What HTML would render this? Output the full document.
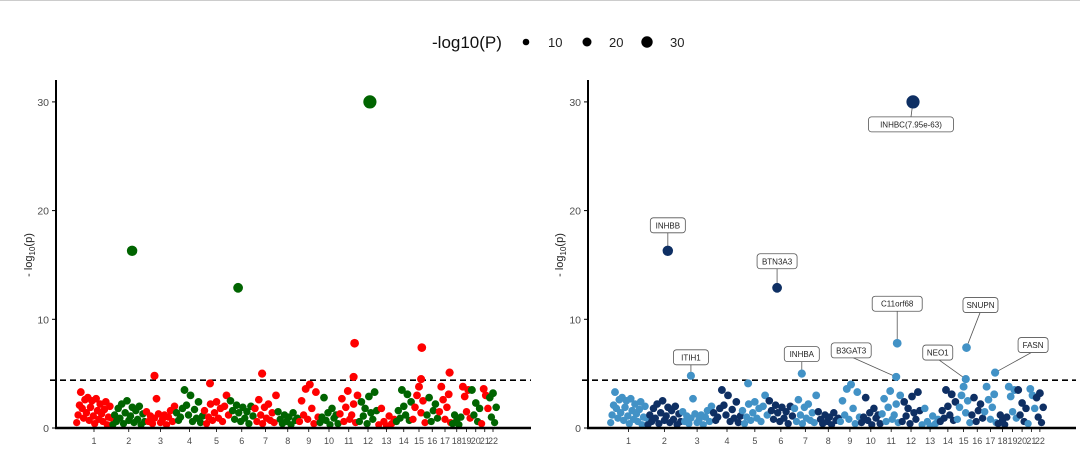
<!DOCTYPE html>
<html><head><meta charset="utf-8"><style>
html,body{margin:0;padding:0;background:#fff}
svg{display:block;font-family:"Liberation Sans",sans-serif}
</style></head><body>
<svg id="c" width="1080" height="461" viewBox="0 0 1080 461">
<line x1="0" y1="0.5" x2="1080" y2="0.5" stroke="#ccc"/>
<g>
<text x="432" y="48" font-size="17" fill="#111">-log10(P)</text>
<circle cx="526" cy="42" r="3.3" fill="#000"/>
<text x="548" y="47" font-size="13" fill="#222">10</text>
<circle cx="587" cy="42" r="4.5" fill="#000"/>
<text x="609" y="47" font-size="13" fill="#222">20</text>
<circle cx="647" cy="42" r="5.7" fill="#000"/>
<text x="670" y="47" font-size="13" fill="#222">30</text>
</g>
</svg>
<script>
const chroms=["1","2","3","4","5","6","7","8","9","10","11","12","13","14","15","16","17","18","19","20","21","22"];
const chromWidths=[36,33.5,30,28,26,24.5,23,21.5,20.5,20,19.5,19,18,16.5,14,12.5,13,10.5,9,9.5,8.5,8];
const bgValues=[
[0.5,1.2,2.1,3.3,1.8,0.9,2.6,1.4,2.8,0.7,1.9,2.5,1.1,0.4,2.7,1.6,0.8,2.2,1.3,0.6,1.7,2.4,0.3,1.0,2.0,0.9],
[0.3,1.2,0.6,1.8,0.9,2.2,0.4,1.4,2.5,0.7,1.1,1.9,0.5,1.6,0.8,2.0,0.3,1.3,0.6],
[1.5,0.6,1.1,0.4,0.9,2.7,1.3,0.5,0.8,1.2,0.3,1.0,1.6,0.6,2.0],
[1.4,0.7,1.0,1.8,3.5,2.1,1.2,3.0,0.6,1.7,0.9,2.4,0.5,1.1],
[1.6,0.4,1.0,2.2,0.7,1.4,2.4,0.9,1.8,0.6,2.0,3.0,1.2],
[2.5,1.6,0.8,2.1,1.4,0.6,1.9,0.9,1.5,0.4,2.0,1.1],
[1.8,0.6,2.6,1.2,0.4,1.9,0.9,2.2,0.7,1.4,0.5,3.0],
[1.5,0.8,0.4,1.2,0.6,1.0,0.3,1.4,0.7,0.9],
[0.6,2.5,1.2,3.6,0.8,4.0,1.8,0.4,3.3,1.0],
[0.5,1.0,2.8,0.7,1.4,0.3,1.8,0.9,1.2,0.4],
[1.3,2.7,0.6,1.9,3.4,0.8,1.2,2.2,0.5,3.0],
[0.6,2.4,1.1,1.8,0.4,2.9,1.4,0.8,3.3,1.6],
[0.3,1.8,0.6,0.2,1.1,0.4,0.8],
[0.6,1.6,0.9,3.5,2.0,1.2,3.1,0.7,2.4],
[0.8,1.9,3.0,3.8,1.4,2.5,0.5],
[1.2,2.8,0.6,1.6,2.2,0.9],
[1.5,3.8,2.6,0.8,1.9,3.1,0.5],
[0.4,1.2,0.7,0.3,1.0],
[3.8,2.9,1.5,3.5,0.9],
[3.5,1.2,2.3,0.6,1.8],
[0.4,3.6,3.0,1.8],
[2.8,1.0,3.2,0.5,1.9]];
const peakChrom=[2,6,12,11,3,7,11,15,15,17,5];
const peakFrac=[0.6,0.35,0.6,0.8,0.3,0.35,0.75,0.65,0.7,0.85,0.25];
const peakValue=[16.3,12.9,30,7.8,4.8,5.0,4.7,4.5,7.4,5.1,4.1];
const peakLabel=["INHBB","BTN3A3","INHBC(7.95e-63)","C11orf68","ITIH1","INHBA","B3GAT3","NEO1","SNUPN","FASN",""];
const labelDx=[0,0,-2,0,0,0,-45,-28,14,38,0];
const labelDy=[-26,-27,22,-40,-19,-20,-27,-27,-43,-28,0];
const yTicks=[0,10,20,30];
const threshold=4.4;

const svg=document.getElementById('c');
const NS='http://www.w3.org/2000/svg';
function mk(tag,attrs,parent){const e=document.createElementNS(NS,tag);for(const k in attrs)e.setAttribute(k,attrs[k]);(parent||svg).appendChild(e);return e;}
const total=chromWidths.reduce((a,b)=>a+b,0);
const starts=[];{let s=0;for(const w of chromWidths){starts.push(s);s+=w;}}
function yScale(v){return 428-v*10.87;}
function rScale(v){return 3.6+0.1*v;}

const panels=[
 {name:'left',x0:76,x1:497,axisX:56,lineX0:50,lineX1:531,colors:['#ff0000','#006400'],labels:false,ytitleX:32},
 {name:'right',x0:610,x1:1044,axisX:588,lineX0:582,lineX1:1076,colors:['#4292c6','#0e2f63'],labels:true,ytitleX:563}
];
panels.forEach(p=>{
 const g=mk('g',{});
 
 
 const xs=u=>p.x0+u/total*(p.x1-p.x0);
 const pts=mk('g',{},g);
 
 
 bgValues.forEach((vals,ci)=>{
  const col=p.colors[ci%2];
  vals.forEach((v,i)=>{
   const u=starts[ci]+(i+0.5)/vals.length*chromWidths[ci];
   const c=mk('circle',{cx:xs(u).toFixed(1),cy:yScale(v).toFixed(1),r:rScale(v).toFixed(2),fill:col},pts);
   
   
  });
 });
 const th=mk('line',{x1:p.lineX0,x2:p.lineX1,y1:yScale(threshold),y2:yScale(threshold),stroke:'#000','stroke-width':1.6,'stroke-dasharray':'6 4'},g);
 
 
 peakValue.forEach((v,i)=>{
  const ci=peakChrom[i]-1;
  const u=starts[ci]+peakFrac[i]*chromWidths[ci];
  const cx=xs(u),cy=yScale(v);
  if(p.labels&&peakLabel[i]){
   const lx=cx+labelDx[i],ly=cy+labelDy[i];
   const w=peakLabel[i].length*5+10;
   const ln=mk('line',{x1:cx,y1:cy,x2:lx,y2:labelDy[i]>0?ly-7:ly+7,stroke:'#555','stroke-width':0.8},g);
   
   
   const r=mk('rect',{x:lx-w/2,y:ly-7,width:w,height:15,rx:3,fill:'#fff',stroke:'#555','stroke-width':0.8},g);
   
   
   const t=mk('text',{x:lx,y:ly+3.5,'font-size':8,'text-anchor':'middle',fill:'#222'},g);
   t.textContent=peakLabel[i];
   
   
  }
  const c=mk('circle',{cx:cx.toFixed(1),cy:cy.toFixed(1),r:rScale(v).toFixed(2),fill:p.colors[ci%2]},g);
  
  
 });
 const ya=mk('line',{x1:p.axisX,x2:p.axisX,y1:80,y2:429,stroke:'#000','stroke-width':2},g);
 
 
 const xa=mk('line',{x1:p.axisX-1,x2:p.lineX1,y1:428,y2:428,stroke:'#000','stroke-width':2.5},g);
 
 
 yTicks.forEach(v=>{
  const tk=mk('line',{x1:p.axisX-4,x2:p.axisX,y1:yScale(v),y2:yScale(v),stroke:'#000','stroke-width':1},g);
  
  
  const t=mk('text',{x:p.axisX-7,y:yScale(v)+4,'font-size':10.5,'text-anchor':'end',fill:'#4d4d4d'},g);
  t.textContent=v;
  
  
 });
 chroms.forEach((c,ci)=>{
  const x=xs(starts[ci]+chromWidths[ci]/2);
  const tk=mk('line',{x1:x,x2:x,y1:429,y2:432,stroke:'#000','stroke-width':0.8},g);
  
  
  const t=mk('text',{x:x,y:444,'font-size':9,'text-anchor':'middle',fill:'#4d4d4d'},g);
  t.textContent=c;
  
  
 });
 const yt=mk('text',{x:0,y:0,'font-size':11,'text-anchor':'middle',fill:'#222',transform:`translate(${p.ytitleX},255) rotate(-90)`},g);
 yt.innerHTML='- log<tspan font-size="8" dy="3">10</tspan><tspan dy="-3">(p)</tspan>';
 
 
});
</script>
</body></html>
